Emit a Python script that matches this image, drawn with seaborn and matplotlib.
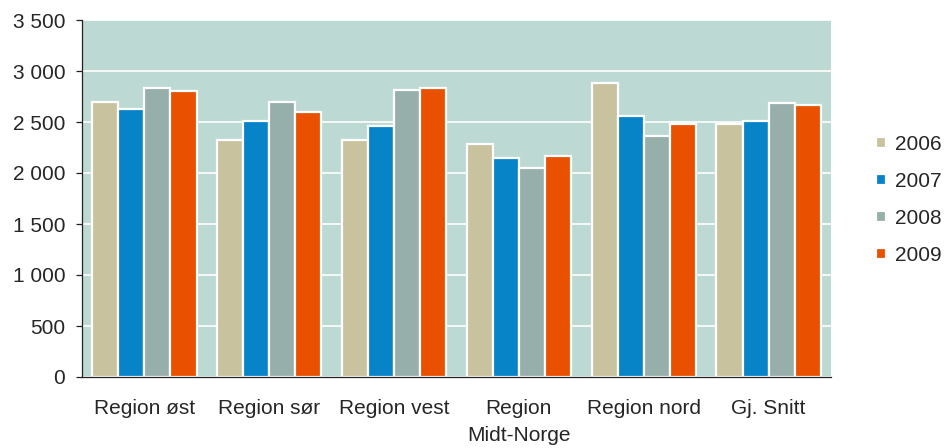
import matplotlib
matplotlib.use("Agg")
import matplotlib.pyplot as plt
import seaborn as sns
import pandas as pd
from matplotlib.ticker import FuncFormatter, FixedLocator

categories = ["Region øst", "Region sør", "Region vest", "Region\nMidt-Norge", "Region nord", "Gj. Snitt"]
years = ["2006", "2007", "2008", "2009"]
v2006 = [2700, 2325, 2325, 2285, 2880, 2485]
v2007 = [2625, 2505, 2460, 2145, 2560, 2505]
v2008 = [2835, 2700, 2815, 2050, 2365, 2685]
v2009 = [2800, 2600, 2835, 2165, 2485, 2665]
colors = ["#C9C29E", "#0783C8", "#97AFAA", "#E95000"]

rows = []
for y, vals in zip(years, [v2006, v2007, v2008, v2009]):
    for c, v in zip(categories, vals):
        rows.append({"cat": c, "year": y, "val": v})
df = pd.DataFrame(rows)

sns.set_style("white")
plt.rcParams["font.family"] = ["Liberation Sans", "DejaVu Sans"]
FS = 15

fig = plt.figure(figsize=(9.45, 4.48), dpi=100)
ax = fig.add_axes([82/945, 1-377/448, (831-82)/945, (377-20)/448])
ax.set_facecolor("#BDD9D4")

sns.barplot(data=df, x="cat", y="val", hue="year", palette=colors, ax=ax,
            width=0.835, edgecolor="white", linewidth=1.6, saturation=1, legend=True)

ax.set_ylim(0, 3500)
ax.set_xlim(-0.5, 5.5)
ax.set_yticks(range(0, 3501, 500))
ax.yaxis.set_major_formatter(FuncFormatter(lambda v, p: f"{int(v):,}".replace(",", " ")))
ax.grid(axis="y", color="white", linewidth=1.2)
ax.set_axisbelow(True)
ax.set_xlabel("")
ax.set_ylabel("")

for s in ["top", "right"]:
    ax.spines[s].set_visible(False)
for s in ["left", "bottom"]:
    ax.spines[s].set_color("#222222")
    ax.spines[s].set_linewidth(0.9)

ax.tick_params(axis="x", which="major", length=0, pad=16, labelsize=FS)
for t in ax.get_xticklabels():
    t.set_linespacing(1.5)
ax.xaxis.set_minor_locator(FixedLocator([i - 0.5 for i in range(7)]))
ax.tick_params(axis="x", which="minor", length=4, color="#222222", width=0.9)
ax.tick_params(axis="y", length=4, pad=8, color="#222222", width=0.9, labelsize=FS, left=True)

h, l = ax.get_legend_handles_labels()
ax.get_legend().remove()
fig.legend(h, l, loc="center left", bbox_to_anchor=(876/945, 1-200/448), frameon=False,
           fontsize=FS, handlelength=0.48, handleheight=0.48, labelspacing=0.865,
           handletextpad=0.45, borderpad=0, borderaxespad=0)

fig.savefig("out.png", dpi=100, facecolor="white")
